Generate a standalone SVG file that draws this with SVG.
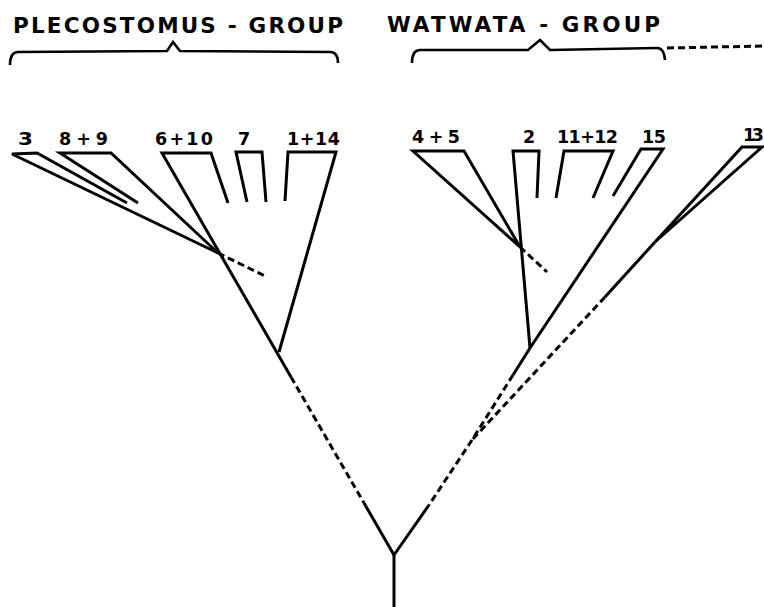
<svg xmlns="http://www.w3.org/2000/svg" width="764" height="607" viewBox="0 0 764 607">
<style>
.ln{fill:none;stroke:#000;stroke-width:3;stroke-linejoin:miter;stroke-linecap:butt}
.ds{fill:none;stroke:#000;stroke-width:3;stroke-dasharray:7 4}
.br{fill:none;stroke:#000;stroke-width:2.6}
.lb{font-family:"DejaVu Sans","Liberation Sans",sans-serif;font-weight:bold;font-size:17.5px;fill:#000}
.tt{font-family:"DejaVu Sans","Liberation Sans",sans-serif;font-weight:bold;font-size:21.5px;fill:#000}
</style>
<rect width="764" height="607" fill="#fff"/>
<g id="plecostomus-group">
<text class="tt" x="13" y="33" textLength="330" lengthAdjust="spacing">PLECOSTOMUS - GROUP</text>
<path class="br" d="M10,65 Q10,52 18,52 L167,51 L173,42 L180,51 L330,52 Q338,52 338,63"/>
</g>
<g id="watwata-group">
<text class="tt" x="387" y="32" textLength="273" lengthAdjust="spacing">WATWATA - GROUP</text>
<path class="br" d="M412,63 Q412,50 420,50 L528,50 L540,40 L550,50 L657,48 Q664,48 665,60"/>
<line class="ds" x1="667" y1="48" x2="764" y2="46"/>
</g>
<g id="taxon-3">
<text class="lb" x="18" y="145" textLength="15" lengthAdjust="spacingAndGlyphs">3</text>
<polyline class="ln" points="127,203 37,153 12,154 218,253"/>
</g>
<g id="taxon-8-9">
<text class="lb" x="59" y="145" textLength="49" lengthAdjust="spacing">8+9</text>
<polyline class="ln" points="138,203 60,153 111,153 218,253"/>
</g>
<g id="taxon-6-10">
<text class="lb" x="155" y="145" textLength="58" lengthAdjust="spacing">6+10</text>
<polyline class="ln" points="228,203 211,153 162,153 291,377"/>
</g>
<g id="taxon-7">
<text class="lb" x="238" y="145">7</text>
<polyline class="ln" points="247,202 236,152 262,152 266,202"/>
</g>
<g id="taxon-1-14">
<text class="lb" x="287" y="145" textLength="53" lengthAdjust="spacing">1+14</text>
<polyline class="ln" points="285,201 288,152 336,152 279,352"/>
</g>
<g id="taxon-4-5">
<text class="lb" x="412" y="143" textLength="48" lengthAdjust="spacing">4+5</text>
<polygon class="ln" points="413,151 464,151 520,247"/>
</g>
<g id="taxon-2">
<text class="lb" x="523" y="143">2</text>
<polyline class="ln" points="537,198 539,151 513,151 530,348"/>
</g>
<g id="taxon-11-12">
<text class="lb" x="557" y="143" textLength="61" lengthAdjust="spacing">11+12</text>
<polyline class="ln" points="556,198 564,151 613,151 593,198"/>
</g>
<g id="taxon-15">
<text class="lb" x="642" y="143" textLength="24" lengthAdjust="spacing">15</text>
<polyline class="ln" points="613,196 641,149 663,149 530,348"/>
</g>
<g id="taxon-13">
<text class="lb" x="743" y="141" textLength="21" lengthAdjust="spacing">13</text>
<polyline class="ln" points="655,242 742,147 762,147 655,242"/>
</g>
<g id="connectors">
<line class="ds" x1="218" y1="253" x2="267" y2="277"/>
<line class="ds" x1="291" y1="377" x2="364" y2="503"/>
<line class="ln" x1="364" y1="503" x2="394" y2="555"/>
<line class="ds" x1="520" y1="247" x2="547" y2="272"/>
<line class="ln" x1="530" y1="348" x2="513" y2="375"/>
<line class="ds" x1="513" y1="375" x2="472" y2="440"/>
<line class="ln" x1="655" y1="242" x2="605" y2="297"/>
<line class="ds" x1="605" y1="297" x2="472" y2="440"/>
<line class="ds" x1="472" y1="440" x2="429" y2="505"/>
<line class="ln" x1="429" y1="505" x2="394" y2="555"/>
<line class="ln" x1="394" y1="554" x2="394" y2="607"/>
</g>
</svg>
